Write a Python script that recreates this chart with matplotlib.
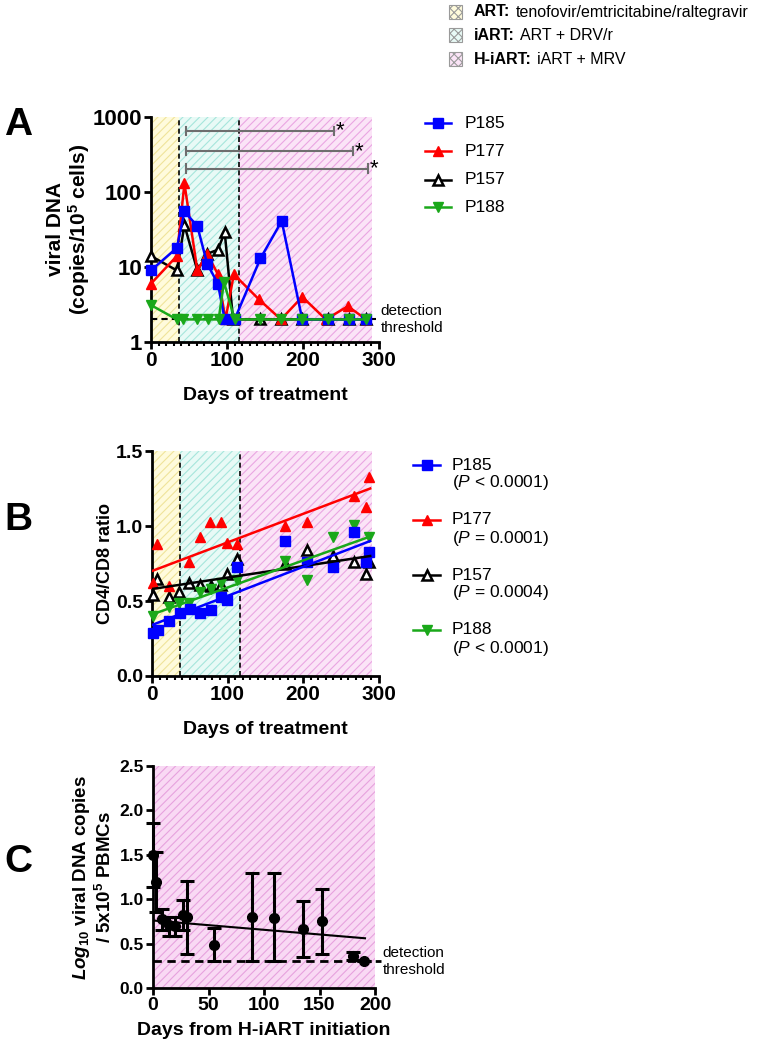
import numpy as np
import matplotlib
matplotlib.use('Agg')
import matplotlib.pyplot as plt
from matplotlib.lines import Line2D
from matplotlib.patches import Rectangle

plt.rcParams['font.family'] = ['Liberation Sans', 'DejaVu Sans']
plt.rcParams['mathtext.fontset'] = 'custom'
plt.rcParams['mathtext.rm'] = 'Liberation Sans'
plt.rcParams['mathtext.it'] = 'Liberation Sans:italic'
plt.rcParams['mathtext.bf'] = 'Liberation Sans:bold'
plt.rcParams['mathtext.bfit'] = 'Liberation Sans:italic:bold'
plt.rcParams['hatch.linewidth'] = 0.8

# %% data
# treatment phases (days)
phase_names = ['ART', 'iART', 'H-iART']
phase_desc = ['tenofovir/emtricitabine/raltegravir', 'ART + DRV/r', 'iART + MRV']
phase_start = [0, 37, 116]
phase_end = [37, 116, 291]

patients = ['P185', 'P177', 'P157', 'P188']
p_values = ['< 0.0001', '= 0.0001', '= 0.0004', '< 0.0001']

# panel A: viral DNA (copies/10^5 cells)
a_days_185 = [0, 34, 44, 61, 74, 88, 97, 110, 144, 172, 199, 233, 261, 283]
a_vals_185 = [9, 18, 55, 35, 11, 6, 2, 2, 13, 41, 2, 2, 2, 2]
a_days_177 = [0, 34, 44, 61, 74, 88, 98, 109, 142, 171, 199, 230, 259, 283]
a_vals_177 = [6, 14, 130, 9, 15, 8, 2, 8, 3.7, 2, 4, 2, 3, 2]
a_days_157 = [0, 34, 44, 61, 74, 88, 97, 108, 143, 171, 199, 233, 261, 283]
a_vals_157 = [14, 9, 36, 9, 15, 17, 29, 2, 2, 2, 2, 2, 2, 2]
a_days_188 = [0, 34, 42, 61, 75, 89, 96, 110, 143, 171, 199, 233, 261, 283]
a_vals_188 = [3.1, 2, 2, 2, 2, 2, 6.3, 2, 2, 2, 2, 2, 2, 2]
detection_a = 2

# significance bars (start day, end day, y)
sig_start = [46, 46, 46]
sig_end = [241, 266, 286]
sig_y = [650, 350, 205]

# panel B: CD4/CD8 ratio
b_days_185 = [1, 8, 22, 37, 50, 64, 78, 92, 99, 113, 176, 205, 240, 267, 284, 288]
b_vals_185 = [0.29, 0.31, 0.37, 0.42, 0.45, 0.42, 0.44, 0.53, 0.51, 0.73, 0.90, 0.76, 0.73, 0.96, 0.76, 0.83]
b_days_177 = [1, 7, 22, 49, 64, 77, 92, 99, 113, 176, 205, 267, 284, 288]
b_vals_177 = [0.62, 0.88, 0.60, 0.76, 0.93, 1.03, 1.03, 0.89, 0.88, 1.00, 1.03, 1.20, 1.13, 1.33]
b_days_157 = [1, 7, 22, 36, 49, 64, 78, 92, 99, 113, 176, 205, 240, 267, 284, 288]
b_vals_157 = [0.54, 0.65, 0.53, 0.56, 0.62, 0.61, 0.60, 0.61, 0.68, 0.78, 0.75, 0.84, 0.80, 0.76, 0.68, 0.76]
b_days_188 = [1, 22, 36, 49, 64, 78, 92, 113, 176, 205, 240, 267, 288]
b_vals_188 = [0.40, 0.46, 0.49, 0.49, 0.56, 0.58, 0.62, 0.64, 0.77, 0.64, 0.93, 1.01, 0.93]
# linear fits: value at day 0 and at day 289
fit_days = [0, 289]
fit_185 = [0.34, 0.90]
fit_177 = [0.70, 1.25]
fit_157 = [0.58, 0.80]
fit_188 = [0.41, 0.93]

# panel C: log10 viral DNA copies / 5x10^5 PBMCs
c_days = [0, 3, 8, 14, 20, 27, 31, 55, 89, 109, 135, 152, 180, 190]
c_mean = [1.50, 1.19, 0.78, 0.71, 0.70, 0.82, 0.80, 0.48, 0.80, 0.79, 0.66, 0.75, 0.36, 0.30]
c_hi = [1.86, 1.53, 0.89, 0.80, 0.80, 0.99, 1.21, 0.68, 1.30, 1.29, 0.98, 1.11, 0.40, 0.30]
c_lo = [1.14, 0.86, 0.65, 0.58, 0.58, 0.65, 0.38, 0.30, 0.30, 0.30, 0.35, 0.38, 0.32, 0.30]
c_fit_days = [0, 191]
c_fit_vals = [0.76, 0.56]
detection_c = 0.3

# %% styles
W, H = 757, 1048
blue, red, black, green = '#0000ff', '#ff0000', '#000000', '#1aa81a'
phase_face = ['#fffbdc', '#e8faf6', '#fbe4f7']
phase_hatch = ['#efe49a', '#a6e6dc', '#eaa6e2']
styles = {
    'P185': dict(color=blue, marker='s', mfc=blue, mec=blue, ms=6.5),
    'P177': dict(color=red, marker='^', mfc=red, mec=red, ms=7),
    'P157': dict(color=black, marker='^', mfc='white', mec=black, ms=7.5, mew=1.8),
    'P188': dict(color=green, marker='v', mfc=green, mec=green, ms=7),
}


def fx(px):
    return px / W


def fy(py):
    return 1 - py / H


def style_axes(ax):
    for s in ['top', 'right']:
        ax.spines[s].set_visible(False)
    for s in ['left', 'bottom']:
        ax.spines[s].set_linewidth(2)
    ax.tick_params(which='major', direction='out', width=2, length=5, pad=1.5)
    ax.tick_params(which='minor', direction='out', width=1.5, length=3)
    for lab in ax.get_xticklabels() + ax.get_yticklabels():
        lab.set_fontweight('bold')


def shade_phases(ax, ylo, yhi, phases=(0, 1, 2)):
    for i in phases:
        ax.fill_between([phase_start[i], phase_end[i]], ylo, yhi, facecolor=phase_face[i],
                        edgecolor=phase_hatch[i], hatch='////', linewidth=0, zorder=0)
    for d in phase_start[1:]:
        ax.axvline(d, color='black', ls=(0, (3, 2)), lw=1.2, zorder=1)


fig = plt.figure(figsize=(W / 100, H / 100), dpi=100)

# %% panel A
axA = fig.add_axes([fx(151), fy(342), (379 - 151) / W, 225 / H])
shade_phases(axA, 1, 1000)
axA.plot([0, 300], [detection_a, detection_a], color='black', ls=(0, (3, 2)), lw=1.5, zorder=1, clip_on=False)
for days, vals, p in [(a_days_157, a_vals_157, 'P157'), (a_days_177, a_vals_177, 'P177'),
                      (a_days_185, a_vals_185, 'P185'), (a_days_188, a_vals_188, 'P188')]:
    axA.plot(days, vals, lw=1.8, zorder=3, clip_on=False, **styles[p])
for s, e, y in zip(sig_start, sig_end, sig_y):
    axA.plot([s, e], [y, y], color='#6e6e6e', lw=1.5, zorder=2)
    axA.plot([s, s], [y * 0.88, y / 0.88], color='#6e6e6e', lw=1.5, zorder=2)
    axA.plot([e, e], [y * 0.88, y / 0.88], color='#6e6e6e', lw=1.5, zorder=2)
    axA.text(e + 2, y, '*', fontsize=16, va='center', ha='left')
axA.set_yscale('log')
axA.set_ylim(1, 1000)
axA.set_xlim(0, 300)
axA.set_yticks([1, 10, 100, 1000])
axA.set_yticklabels(['1', '10', '100', '1000'], fontsize=16)
axA.yaxis.set_minor_locator(plt.NullLocator())
axA.set_xticks([0, 100, 200, 300])
axA.set_xticklabels(['0', '100', '200', '300'], fontsize=15)
axA.set_xticks(np.arange(0, 301, 10), minor=True)
axA.set_xlabel('Days of treatment', fontsize=14, fontweight='bold', labelpad=12)
axA.set_ylabel('viral DNA\n(copies/10$^{\\mathbf{5}}$ cells)', fontsize=15, fontweight='bold', labelpad=0,
               linespacing=1.1)
style_axes(axA)
axA.text(302, detection_a, 'detection\nthreshold', fontsize=11, va='center', ha='left', linespacing=1.3)

# %% panel B
axB = fig.add_axes([fx(152), fy(676), (378.5 - 152) / W, 225 / H])
shade_phases(axB, 0, 1.5)
for days, vals, fit, p in [(b_days_157, b_vals_157, fit_157, 'P157'), (b_days_188, b_vals_188, fit_188, 'P188'),
                           (b_days_185, b_vals_185, fit_185, 'P185'), (b_days_177, b_vals_177, fit_177, 'P177')]:
    st = dict(styles[p])
    axB.plot(days, vals, ls='none', zorder=3, clip_on=False, **st)
    axB.plot(fit_days, fit, color=st['color'], lw=1.8, zorder=4)
axB.set_ylim(0, 1.5)
axB.set_xlim(0, 300)
axB.set_yticks([0, 0.5, 1.0, 1.5])
axB.set_yticklabels(['0.0', '0.5', '1.0', '1.5'], fontsize=14)
axB.set_xticks([0, 100, 200, 300])
axB.set_xticklabels(['0', '100', '200', '300'], fontsize=15)
axB.set_xticks(np.arange(0, 301, 10), minor=True)
axB.set_xlabel('Days of treatment', fontsize=14, fontweight='bold', labelpad=12)
axB.set_ylabel('CD4/CD8 ratio', fontsize=13, fontweight='bold', labelpad=1)
style_axes(axB)

# %% panel C
axC = fig.add_axes([fx(153), fy(988), (375 - 153) / W, 222 / H])
axC.fill_between([0, 200], 0, 2.5, facecolor='#f9d9f4', edgecolor='#e7a2de', hatch='////', linewidth=0, zorder=0)
axC.plot([0, 205], [detection_c, detection_c], color='black', ls=(0, (3, 2)), lw=2, zorder=1, clip_on=False)
c_mean_a = np.array(c_mean)
yerr = [c_mean_a - np.array(c_lo), np.array(c_hi) - c_mean_a]
axC.errorbar(c_days, c_mean, yerr=yerr, fmt='o', color='black', ms=7, elinewidth=2.2,
             capsize=5, capthick=2.2, zorder=3, clip_on=False)
axC.plot(c_fit_days, c_fit_vals, color='black', lw=1.5, zorder=4)
axC.set_ylim(0, 2.5)
axC.set_xlim(0, 200)
axC.set_yticks(np.arange(0, 2.51, 0.5))
axC.set_yticklabels(['0.0', '0.5', '1.0', '1.5', '2.0', '2.5'], fontsize=12.5)
axC.set_xticks([0, 50, 100, 150, 200])
axC.set_xticklabels(['0', '50', '100', '150', '200'], fontsize=14)
axC.set_xlabel('Days from H-iART initiation', fontsize=14, fontweight='bold', labelpad=6)
axC.set_ylabel('$\\mathbfit{Log}_{\\mathbf{10}}$ viral DNA copies\n/ 5x10$^{\\mathbf{5}}$ PBMCs',
               fontsize=13.5, fontweight='bold', labelpad=3)
style_axes(axC)
axC.text(207, detection_c, 'detection\nthreshold', fontsize=11, va='center', ha='left', linespacing=1.3)

# %% panel letters
for letter, py in zip(['A', 'B', 'C'], [125, 520, 862]):
    fig.text(fx(4), fy(py), letter, fontsize=28, fontweight='bold', va='center', ha='left')

# %% phase legend (top)
for i, py in enumerate([12, 35, 59]):
    fig.add_artist(Rectangle((fx(449), fy(py + 6.5)), 13 / W, 13 / H, transform=fig.transFigure,
                             facecolor=phase_face[i], edgecolor='#9a9a9a', hatch='xxxx', lw=0.8))
    t = fig.text(fx(474), fy(py), phase_names[i] + ':', fontsize=11.5, fontweight='bold', va='center', ha='left')
    fig.canvas.draw()
    bb = t.get_window_extent()
    fig.text((bb.x1 + 5) / W, fy(py), phase_desc[i], fontsize=11.5, va='center', ha='left')

# %% patient legends
for p, py in zip(patients, [123, 151, 180, 207]):
    st = dict(styles[p])
    fig.add_artist(Line2D([fx(425), fx(438), fx(451)], [fy(py)] * 3, transform=fig.transFigure,
                          lw=1.8, markevery=[1], **st))
    fig.text(fx(465), fy(py), p, fontsize=12.5, va='center', ha='left')

for p, pv, py in zip(patients, p_values, [465, 520, 575, 630]):
    st = dict(styles[p])
    fig.add_artist(Line2D([fx(413), fx(427), fx(440)], [fy(py)] * 3, transform=fig.transFigure,
                          lw=1.8, markevery=[1], **st))
    fig.text(fx(452), fy(py), p, fontsize=12.5, va='center', ha='left')
    fig.text(fx(452), fy(py + 18), '($\\mathit{P}$ ' + pv + ')', fontsize=12.5, va='center', ha='left')

fig.savefig('out.png', dpi=100)
